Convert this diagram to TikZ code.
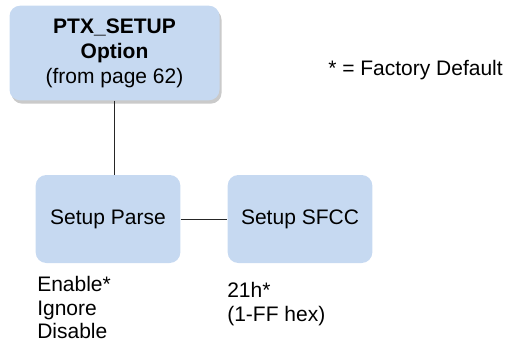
\documentclass[tikz,border=0pt]{standalone}
\usepackage{fontspec}
\setmainfont{Liberation Sans}
\usetikzlibrary{shadows, positioning}
\definecolor{boxblue}{RGB}{198,217,241}
\tikzset{
  mbox/.style = {draw=none, fill=boxblue, rounded corners=8pt, align=center,
    inner sep=0pt, font=\fontsize{15.75}{18.75}\selectfont},
  mtop/.style = {mbox, minimum width=157.5pt, minimum height=71pt,
    drop shadow={shadow xshift=1.5pt, shadow yshift=-2.5pt, fill=black!35, opacity=0.6}},
  msub/.style = {mbox, minimum width=108.5pt, minimum height=66pt},
  mlig/.style = {draw=black!85, line width=0.75pt},
  mlist/.style = {align=left, inner sep=0pt, anchor=north west,
    font=\fontsize{15.75}{17.75}\selectfont}
}

\begin{document}
\begin{tikzpicture}[x=0.75pt, y=-0.75pt]
  \useasboundingbox (0,0) rectangle (509,343);
  \node [mtop] (top) at (114.5,53) {\textbf{PTX\_SETUP}\\\textbf{Option}\\(from page 62)};
  \node [msub] (parse) at (108,219) {Setup Parse};
  \node [msub] (sfcc) at (300,219) {Setup SFCC};
  \draw [mlig] (top.south) -- (top.south |- parse.north);
  \draw [mlig] (parse.east) -- (sfcc.west);
  \node [mlist] (parseval) at (37,276) {Enable*\\Ignore\\Disable};
  \node [mlist] (sfccval) at (227,282) {21h*\\(1-FF hex)};
  \node [font=\fontsize{15.75}{18}\selectfont, inner sep=0pt, anchor=west] (deflt) at (328,70) {* = Factory Default};
\end{tikzpicture}
\end{document}
